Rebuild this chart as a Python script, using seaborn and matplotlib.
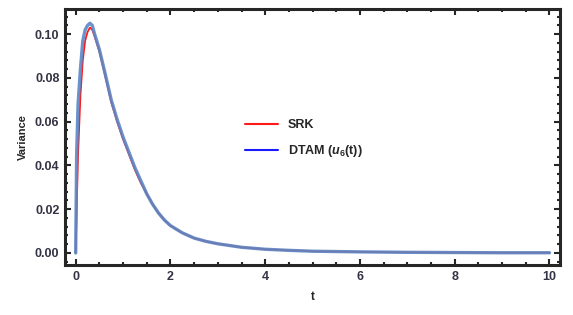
import pandas as pd
import seaborn as sns
import matplotlib.pyplot as plt
from matplotlib.lines import Line2D
from matplotlib.ticker import MultipleLocator

# --- data ---
t = [0, 0.02, 0.05, 0.1, 0.15, 0.2, 0.25, 0.3, 0.35, 0.4, 0.5, 0.6, 0.75,
     0.875, 1.0, 1.125, 1.25, 1.375, 1.5, 1.625, 1.75, 1.875, 2.0, 2.25,
     2.5, 2.75, 3.0, 3.5, 4.0, 4.5, 5.0, 6.0, 7.0, 8.0, 9.0, 10.0]
var_srk = [0, 0.02, 0.045, 0.072, 0.088, 0.097, 0.101, 0.103, 0.102, 0.099,
           0.092, 0.083, 0.069, 0.060, 0.052, 0.045, 0.038, 0.032, 0.027,
           0.0222, 0.0182, 0.0150, 0.0125, 0.0092, 0.0068, 0.0053, 0.0042,
           0.0026, 0.0017, 0.0012, 0.0008, 0.0005, 0.0003, 0.0002, 0.0001,
           0.0001]
var_dtam = [0, 0.045, 0.068, 0.084, 0.097, 0.102, 0.104, 0.105, 0.104, 0.100,
            0.093, 0.084, 0.070, 0.061, 0.053, 0.046, 0.039, 0.033, 0.027,
            0.0222, 0.0182, 0.0150, 0.0125, 0.0092, 0.0068, 0.0053, 0.0042,
            0.0026, 0.0017, 0.0012, 0.0008, 0.0005, 0.0003, 0.0002, 0.0001,
            0.0001]

df = pd.DataFrame({'t': t, 'SRK': var_srk, 'DTAM': var_dtam})

# --- style ---
sns.set_style('ticks')
plt.rcParams['font.family'] = ['Liberation Sans', 'DejaVu Sans']
plt.rcParams['font.weight'] = 'bold'
plt.rcParams['mathtext.fontset'] = 'custom'
plt.rcParams['mathtext.it'] = 'Liberation Sans:italic:bold'
plt.rcParams['mathtext.rm'] = 'Liberation Sans:bold'

fig = plt.figure(figsize=(5.73, 3.15), dpi=100)
ax = fig.add_axes([0.1134, 0.1587, 0.8646, 0.8127])

sns.lineplot(data=df, x='t', y='SRK', color='#ff1a1a', lw=1.3, ax=ax)
sns.lineplot(data=df, x='t', y='DTAM', color='#5b86c6', lw=2.4, alpha=0.9, ax=ax)

ax.set_xlim(-0.226, 10.23)
ax.set_ylim(-0.0055, 0.1115)
ax.xaxis.set_major_locator(MultipleLocator(2))
ax.xaxis.set_minor_locator(MultipleLocator(0.5))
ax.yaxis.set_major_locator(MultipleLocator(0.02))
ax.yaxis.set_minor_locator(MultipleLocator(0.004))
ax.yaxis.set_major_formatter(plt.FuncFormatter(lambda v, p: f'{v:.2f}'))

for s in ax.spines.values():
    s.set_linewidth(2.2)
    s.set_visible(True)
ax.tick_params(which='both', direction='in', top=True, right=True,
               labelsize=9, labelcolor='#333344', width=1.5)
ax.tick_params(which='major', length=4.5, pad=4)
ax.tick_params(which='minor', length=2.5)

ax.set_xlabel('t', fontsize=8.5, fontweight='bold', labelpad=6)
ax.set_ylabel('Variance', fontsize=8, fontweight='bold', labelpad=5)

handles = [Line2D([], [], color='#ff1a1a', lw=1.5),
           Line2D([], [], color='#1a1aff', lw=1.5)]
ax.legend(handles, ['SRK', r'DTAM ($u_6$(t))'], loc='upper left',
          bbox_to_anchor=(0.364, 0.57), frameon=False,
          handlelength=2.6, handletextpad=0.8, labelspacing=0.95,
          borderpad=0, borderaxespad=0, prop={'weight': 'bold', 'size': 9})

fig.savefig('out.png', dpi=100)
